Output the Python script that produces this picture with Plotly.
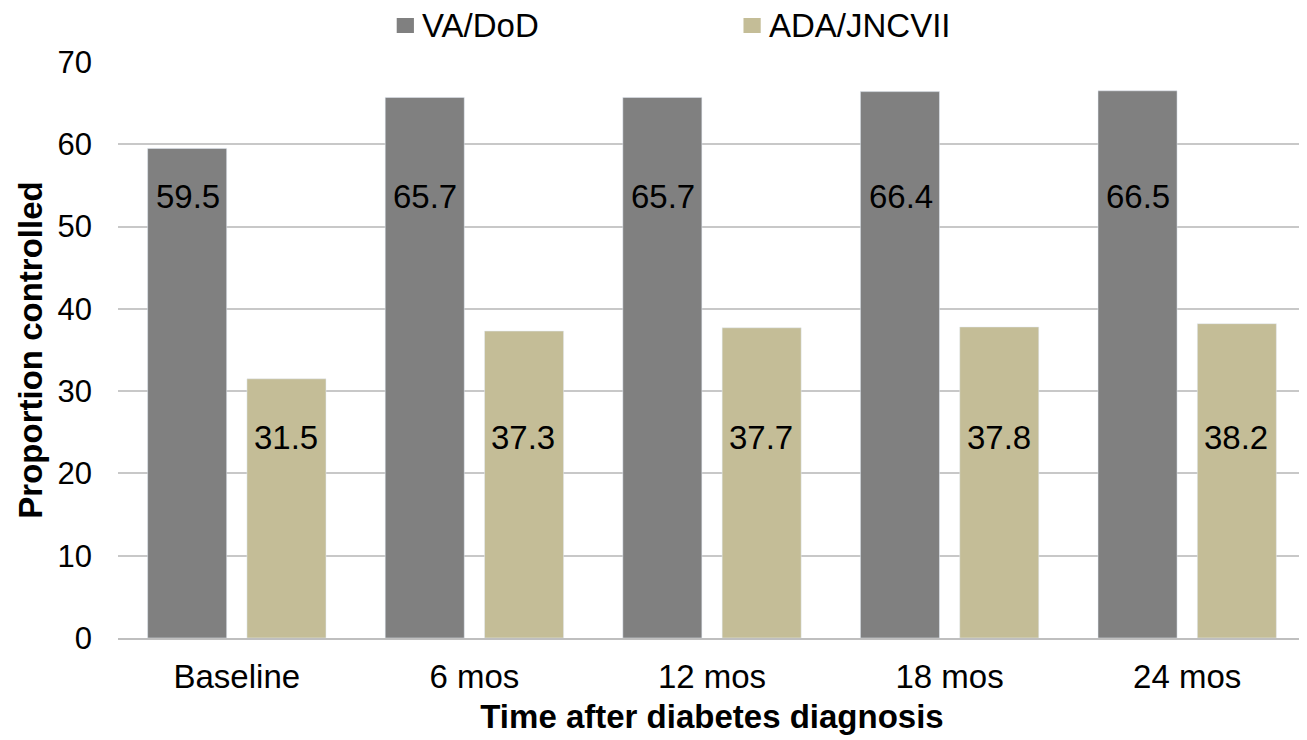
import plotly.graph_objects as go

categories = ["Baseline", "6 mos", "12 mos", "18 mos", "24 mos"]
va_dod = [59.5, 65.7, 65.7, 66.4, 66.5]
ada_jnc = [31.5, 37.3, 37.7, 37.8, 38.2]
y_ticks = [0, 10, 20, 30, 40, 50, 60, 70]
series_names = ["VA/DoD", "ADA/JNCVII"]

FONT = "Liberation Sans, Arial, sans-serif"
GRAY = "#808080"
TAN = "#C4BD97"
FS = 33

fig = go.Figure()
fig.add_trace(go.Bar(name=series_names[0], x=categories, y=va_dod, marker_color=GRAY, showlegend=False))
fig.add_trace(go.Bar(name=series_names[1], x=categories, y=ada_jnc, marker_color=TAN, showlegend=False))

# value labels placed at a fixed height inside the bars
for c, v in zip(categories, va_dod):
    fig.add_annotation(x=c, y=53.7, xref="x", yref="y", text=f"{v:.1f}", showarrow=False,
                       xshift=-49, font=dict(size=FS, color="black", family=FONT))
for c, v in zip(categories, ada_jnc):
    fig.add_annotation(x=c, y=24.4, xref="x", yref="y", text=f"{v:.1f}", showarrow=False,
                       xshift=49, font=dict(size=FS, color="black", family=FONT))

# legend drawn above the plot (square swatch + label)
legend_items = [(series_names[0], GRAY, 0.2346), (series_names[1], TAN, 0.5265)]
for name, color, x0 in legend_items:
    fig.add_shape(type="rect", xref="paper", yref="paper", x0=x0, x1=x0 + 0.0145,
                  y0=1.0503, y1=1.0764, fillcolor=color, line=dict(width=0))
    fig.add_annotation(xref="paper", yref="paper", x=x0 + 0.0200, y=1.0642, xanchor="left",
                       yanchor="middle", text=name, showarrow=False,
                       font=dict(size=FS, color="black", family=FONT))

fig.update_layout(
    width=1307, height=740,
    margin=dict(l=110, r=9, t=54, b=110),
    paper_bgcolor="white", plot_bgcolor="white",
    barmode="group", bargap=0.164, bargroupgap=0.204,
    font=dict(family=FONT, color="black"),
    showlegend=False,
    xaxis=dict(tickfont=dict(size=FS), showline=True, linecolor="#BFBFBF", linewidth=2,
               ticks="", ticklabelstandoff=8,
               title=dict(text="<b>Time after diabetes diagnosis</b>", font=dict(size=FS), standoff=11)),
    yaxis=dict(range=[0, 70], tickvals=y_ticks, tickfont=dict(size=31), showgrid=True,
               gridcolor="#C8C8C8", gridwidth=2, zeroline=False, ticks="", ticklen=0,
               ticklabelstandoff=25,
               title=dict(text="<b>Proportion controlled</b>", font=dict(size=FS), standoff=4)),
)

fig.write_html("out.html")
